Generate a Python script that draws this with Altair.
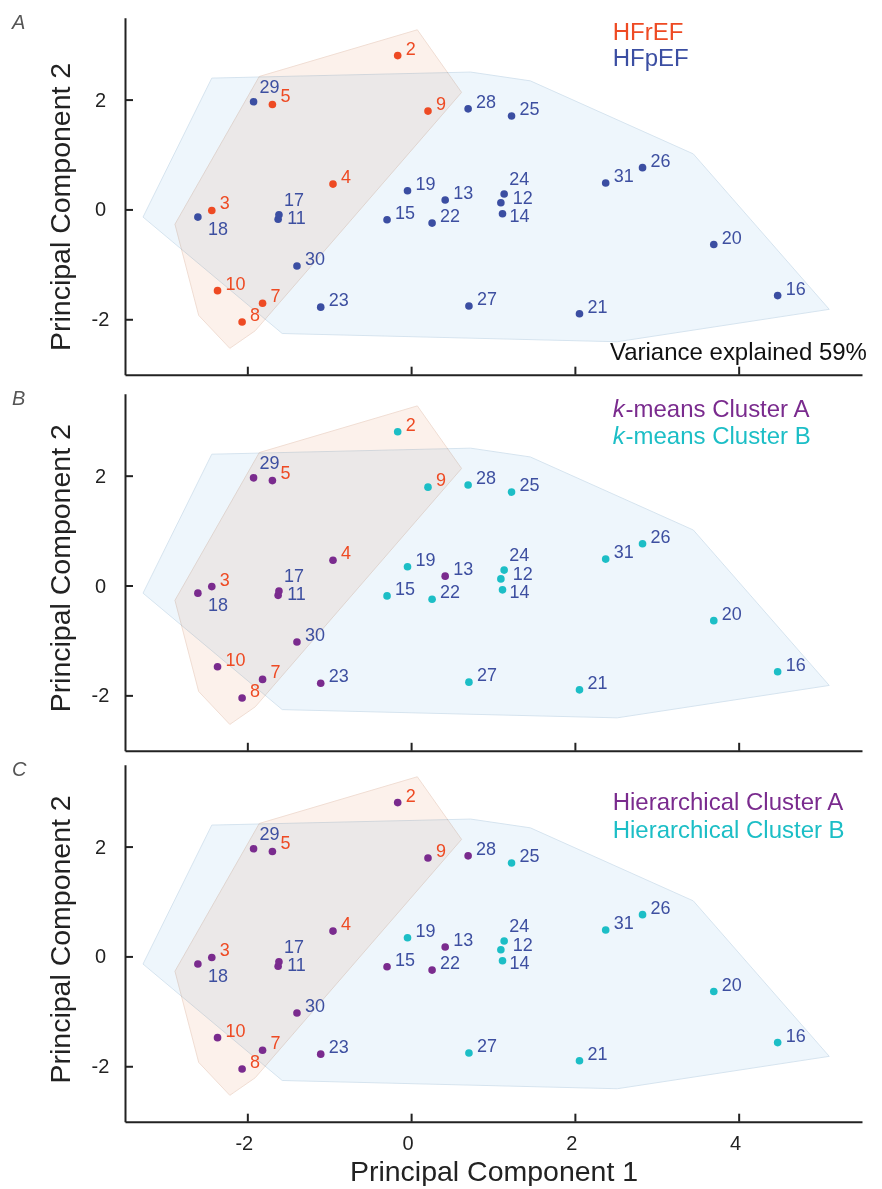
import altair as alt
import pandas as pd

# ---------------- data ----------------
ids = [2, 3, 4, 5, 7, 8, 9, 10, 11, 12, 13, 14, 15, 16, 17, 18, 19, 20,
       21, 22, 23, 24, 25, 26, 27, 28, 29, 30, 31]
pc1 = [-0.17, -2.44, -0.96, -1.70, -1.82, -2.07, 0.20, -2.37, -1.63, 1.09,
       0.41, 1.11, -0.30, 4.47, -1.62, -2.61, -0.05, 3.69, 2.05, 0.25,
       -1.11, 1.13, 1.22, 2.82, 0.70, 0.69, -1.93, -1.40, 2.37]
pc2 = [2.81, -0.01, 0.47, 1.92, -1.70, -2.04, 1.80, -1.47, -0.17, 0.13,
       0.18, -0.07, -0.18, -1.56, -0.09, -0.13, 0.35, -0.63, -1.89, -0.24,
       -1.77, 0.29, 1.71, 0.77, -1.75, 1.84, 1.97, -1.02, 0.49]
hfref_ids = [2, 3, 4, 5, 7, 8, 9, 10]
kmeans_a_ids = [3, 4, 5, 7, 8, 10, 11, 13, 17, 18, 23, 29, 30]
hier_b_ids = [12, 14, 16, 19, 20, 21, 24, 25, 26, 27, 31]

hfref_hull_x = [0.07, 0.61, -1.91, -2.22, -2.60, -2.89, -1.86]
hfref_hull_y = [3.28, 2.14, -2.20, -2.52, -1.92, -0.26, 2.43]
hfpef_hull_x = [-2.44, 0.72, 1.45, 3.44, 5.10, 2.51, -1.58, -3.28]
hfpef_hull_y = [2.40, 2.51, 2.35, 1.02, -1.81, -2.40, -2.25, -0.13]

XTICKS = [-2, 0, 2, 4]
YTICKS = [-2, 0, 2]
XDOM = [-3.5, 5.5]
YDOM = [-3.0, 3.5]

# ---------------- style ----------------
FONT = "Liberation Sans"
RED = "#EE4A23"
BLUE = "#3B4EA2"
LBLUE = "#3D4FA0"
PURPLE = "#7A2B8E"
CYAN = "#1CBEC6"
INK = "#222222"
OR_FILL = "#FCF1EB"
OR_EDGE = "#F0DDD3"
BL_FILL = "#EEF6FC"
BL_EDGE = "#D6E4EF"
W, H = 737, 357
TICK_LEN = 8
HYPHEN_LABEL = "(datum.value < 0 ? '-' : '') + abs(datum.value)"

# special label offsets (dx, dy) in pixels
LABEL_OFFSETS = {18: (10, 18), 11: (9, 5), 17: (5, -9), 24: (5, -9),
                 12: (12, 1), 14: (7, 8), 29: (6, -9), 5: (8, -2)}
DEFAULT_OFFSET = (8, -1)

pts = pd.DataFrame({"id": ids, "pc1": pc1, "pc2": pc2})
pts["group"] = ["HFrEF" if i in hfref_ids else "HFpEF" for i in ids]
pts["kmeans"] = ["A" if i in kmeans_a_ids else "B" for i in ids]
pts["hier"] = ["B" if i in hier_b_ids else "A" for i in ids]
pts["label"] = pts["id"].astype(str)

hull = pd.concat([
    pd.DataFrame({"hx": hfref_hull_x + hfref_hull_x[:1],
                  "hy": hfref_hull_y + hfref_hull_y[:1],
                  "ord": list(range(len(hfref_hull_x) + 1)),
                  "grp": "HFrEF"}),
    pd.DataFrame({"hx": hfpef_hull_x + hfpef_hull_x[:1],
                  "hy": hfpef_hull_y + hfpef_hull_y[:1],
                  "ord": list(range(len(hfpef_hull_x) + 1)),
                  "grp": "HFpEF"}),
], ignore_index=True)

xsc = alt.Scale(domain=XDOM, nice=False, zero=False)
ysc = alt.Scale(domain=YDOM, nice=False, zero=False)
NO_BORDER = alt.ViewBackground(stroke="transparent", strokeWidth=0)


def panel(color_field, cdomain, crange, legend, letter, title_y, show_x,
          variance=False, italic_k=False):
    yaxis = alt.Axis(values=YTICKS, title="Principal Component 2",
                     titleX=-56, titleY=title_y, titleAngle=270,
                     titleAlign="center", titleBaseline="alphabetic",
                     titleFont=FONT, titleFontSize=28.5,
                     titleFontWeight="normal", titleColor=INK,
                     labelFont=FONT, labelFontSize=20, labelAlign="center",
                     labelBaseline="middle", labelPadding=25,
                     labelExpr=HYPHEN_LABEL,
                     labelColor=INK, ticks=False, tickSize=0, grid=False,
                     domainColor=INK, domainWidth=2)
    if show_x:
        xaxis = alt.Axis(values=XTICKS, title="Principal Component 1",
                         titleY=58.5, titleBaseline="alphabetic",
                         titleFont=FONT, titleFontSize=28.5,
                         titleFontWeight="normal", titleColor=INK,
                         labelFont=FONT, labelFontSize=20, labelPadding=11.5,
                         labelExpr=HYPHEN_LABEL,
                         labelOffset=-4, labelColor=INK, ticks=False,
                         tickSize=0, grid=False, domainColor=INK,
                         domainWidth=2)
    else:
        xaxis = alt.Axis(values=XTICKS, title=None, labels=False,
                         ticks=False, tickSize=0, grid=False,
                         domainColor=INK, domainWidth=2)

    def X(field):
        return alt.X(field, scale=xsc, axis=xaxis)

    def Y(field):
        return alt.Y(field, scale=ysc, axis=yaxis)

    base_h = alt.Chart(hull)
    hull_or = base_h.transform_filter(alt.datum.grp == "HFrEF").mark_line(
        fill=OR_FILL, stroke=OR_EDGE, strokeWidth=1, blend="multiply"
    ).encode(x=X("hx:Q"), y=Y("hy:Q"), order=alt.Order("ord:Q"))
    hull_bl = base_h.transform_filter(alt.datum.grp == "HFpEF").mark_line(
        fill=BL_FILL, stroke=BL_EDGE, strokeWidth=1, blend="multiply"
    ).encode(x=X("hx:Q"), y=Y("hy:Q"), order=alt.Order("ord:Q"))

    # inward-pointing axis ticks
    ytick = alt.Chart(pd.DataFrame({"v": YTICKS})).mark_tick(
        color=INK, orient="horizontal", size=TICK_LEN, thickness=2,
        opacity=1).encode(y=Y("v:Q"), x=alt.value(TICK_LEN / 2))
    xtick = alt.Chart(pd.DataFrame({"v": XTICKS})).mark_tick(
        color=INK, orient="vertical", size=TICK_LEN, thickness=2,
        opacity=1).encode(x=X("v:Q"), y=alt.value(H - TICK_LEN / 2))

    points = alt.Chart(pts).mark_circle(size=58, opacity=1).encode(
        x=X("pc1:Q"), y=Y("pc2:Q"),
        color=alt.Color(f"{color_field}:N",
                        scale=alt.Scale(domain=cdomain, range=crange),
                        legend=None))

    lab_color = alt.Color("group:N",
                          scale=alt.Scale(domain=["HFrEF", "HFpEF"],
                                          range=[RED, LBLUE]),
                          legend=None)
    special = list(LABEL_OFFSETS.keys())
    text_layers = [
        alt.Chart(pts).transform_filter(
            ~alt.FieldOneOfPredicate(field="id", oneOf=special)
        ).mark_text(font=FONT, fontSize=18, align="left",
                    baseline="alphabetic", dx=DEFAULT_OFFSET[0],
                    dy=DEFAULT_OFFSET[1]).encode(
            x=X("pc1:Q"), y=Y("pc2:Q"), text="label:N", color=lab_color)
    ]
    for pid, (ddx, ddy) in LABEL_OFFSETS.items():
        text_layers.append(
            alt.Chart(pts).transform_filter(alt.datum.id == pid).mark_text(
                font=FONT, fontSize=18, align="left", baseline="alphabetic",
                dx=ddx, dy=ddy).encode(
                x=X("pc1:Q"), y=Y("pc2:Q"), text="label:N", color=lab_color))

    deco = []
    for (txt, col, ypos) in legend:
        if italic_k:
            deco.append(alt.Chart(pd.DataFrame({"t": ["k"]})).mark_text(
                font=FONT, fontSize=24, fontStyle="italic", align="left",
                baseline="alphabetic", color=col).encode(
                x=alt.value(487.7), y=alt.value(ypos), text="t:N"))
            deco.append(alt.Chart(pd.DataFrame({"t": [txt]})).mark_text(
                font=FONT, fontSize=24, align="left", baseline="alphabetic",
                color=col).encode(
                x=alt.value(500.5), y=alt.value(ypos), text="t:N"))
        else:
            deco.append(alt.Chart(pd.DataFrame({"t": [txt]})).mark_text(
                font=FONT, fontSize=24, align="left", baseline="alphabetic",
                color=col).encode(
                x=alt.value(487.7), y=alt.value(ypos), text="t:N"))
    if variance:
        deco.append(alt.Chart(pd.DataFrame({"t": ["Variance explained 59%"]})
                              ).mark_text(
            font=FONT, fontSize=24, align="left", baseline="alphabetic",
            color="#111111").encode(
            x=alt.value(485), y=alt.value(342.7), text="t:N"))
    deco.append(alt.Chart(pd.DataFrame({"t": [letter]})).mark_text(
        font=FONT, fontSize=20, fontStyle="italic", align="left",
        baseline="alphabetic", color="#555555").encode(
        x=alt.value(-113), y=alt.value(11.7), text="t:N"))

    layers = [hull_or, hull_bl, points] + text_layers + deco + [ytick, xtick]
    return alt.layer(*layers).resolve_scale(color="independent").properties(
        width=W, height=H, view=NO_BORDER)


pA = panel("group", ["HFrEF", "HFpEF"], [RED, BLUE],
           [("HFrEF", RED, 22.7), ("HFpEF", BLUE, 48.7)],
           "A", 188.7, False, variance=True)
pB = panel("kmeans", ["A", "B"], [PURPLE, CYAN],
           [("-means Cluster A", PURPLE, 23.3),
            ("-means Cluster B", CYAN, 50.6)],
           "B", 174, False, italic_k=True)
pC = panel("hier", ["A", "B"], [PURPLE, CYAN],
           [("Hierarchical Cluster A", PURPLE, 45.7),
            ("Hierarchical Cluster B", CYAN, 73.4)],
           "C", 174.2, True)

chart = alt.vconcat(alt.vconcat(pA, pB, spacing=14.1), pC, spacing=8.0).properties(
    padding={"left": 12, "top": 12.7, "right": 0, "bottom": 0}
).configure_view(stroke="transparent", strokeWidth=0).configure(background="white")

chart.save("out.html", embed_options={"renderer": "svg", "actions": False})
